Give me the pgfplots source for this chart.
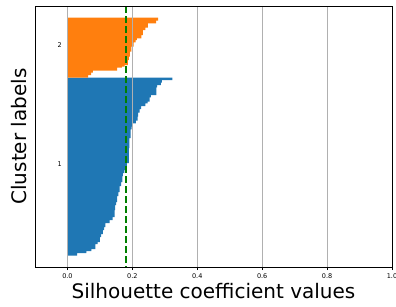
\documentclass[border=0pt]{standalone}
\usepackage{fontspec}
\setmainfont{DejaVu Sans}
\usepackage{pgfplots}
\pgfplotsset{compat=1.18}
\definecolor{mplblue}{HTML}{1F77B4}
\definecolor{mplorange}{HTML}{FF7F0E}
\definecolor{mplgreen}{HTML}{008000}
\definecolor{gridgray}{HTML}{B0B0B0}
\begin{document}
\begin{tikzpicture}
\begin{axis}[
  at={(0pt,0pt)}, anchor=south west,
  scale only axis, width=357pt, height=261pt,
  xmin=-0.1, xmax=1.0, ymin=6, ymax=267, y dir=reverse,
  xtick={0,0.2,0.4,0.6,0.8,1.0},
  xticklabels={0.0,0.2,0.4,0.6,0.8,1.0},
  ytick=\empty,
  xmajorgrids, grid style={draw=gridgray, line width=0.8pt},
  axis on top,
  axis line style={line width=0.8pt},
  tick align=outside, xtick pos=bottom, major tick length=3pt,
  every tick/.style={black, line width=0.8pt},
  /pgf/number format/assume math mode=true,
  tick label style={font=\fontsize{6.5}{8}\selectfont},
  xlabel={Silhouette coefficient values},
  ylabel={Cluster labels},
  every axis x label/.style={at={(axis description cs:0.5,0)}, yshift=-24pt, anchor=center, font=\fontsize{20}{24}\selectfont},
  every axis y label/.style={at={(axis description cs:0,0.5)}, xshift=-16pt, rotate=90, anchor=center, font=\fontsize{20}{24}\selectfont},
  clip=false,
]
% cluster 1
\addplot[fill=mplblue, draw=none] coordinates {
(0,77.7)
(0.323,77.7)(0.323,80)
(0.291,80)(0.291,82.7)
(0.288,82.7)(0.288,85)
(0.276,85)(0.276,87.3)
(0.274,87.3)(0.274,95)
(0.257,95)(0.257,97.3)
(0.253,97.3)(0.253,101.7)
(0.247,101.7)(0.247,103.3)
(0.240,103.3)(0.240,106)
(0.227,106)(0.227,109)
(0.222,109)(0.222,112.7)
(0.218,112.7)(0.218,116.7)
(0.216,116.7)(0.216,120.7)
(0.211,120.7)(0.211,123.3)
(0.201,123.3)(0.201,126.7)
(0.198,126.7)(0.198,129.3)
(0.195,129.3)(0.195,138)
(0.191,138)(0.191,148)
(0.189,148)(0.189,163)
(0.183,163)(0.183,166)
(0.180,166)(0.180,170)
(0.175,170)(0.175,173)
(0.171,173)(0.171,176)
(0.169,176)(0.169,182)
(0.165,182)(0.165,186)
(0.161,186)(0.161,192)
(0.157,192)(0.157,196)
(0.153,196)(0.153,202)
(0.150,202)(0.150,205)
(0.147,205)(0.147,210)
(0.145,210)(0.145,217)
(0.139,217)(0.139,220)
(0.130,220)(0.130,223)
(0.117,223)(0.117,227)
(0.113,227)(0.113,230)
(0.109,230)(0.109,234)
(0.104,234)(0.104,237)
(0.100,237)(0.100,242)
(0.093,242)(0.093,244)
(0.086,244)(0.086,249)
(0.074,249)(0.074,251)
(0.058,251)(0.058,253)
(0.030,253)(0.030,255.7)
(0,255.7)
};
% cluster 2
\addplot[fill=mplorange, draw=none] coordinates {
(0,17.7)
(0.279,17.7)(0.279,20.7)
(0.273,20.7)(0.273,23.3)
(0.248,23.3)(0.248,27.7)
(0.240,27.7)(0.240,30)
(0.232,30)(0.232,35)
(0.228,35)(0.228,38.3)
(0.214,38.3)(0.214,40)
(0.210,40)(0.210,42.3)
(0.204,42.3)(0.204,46.7)
(0.197,46.7)(0.197,51.7)
(0.192,51.7)(0.192,56.7)
(0.189,56.7)(0.189,60)
(0.186,60)(0.186,65)
(0.176,65)(0.176,66.7)
(0.168,66.7)(0.168,67.7)
(0.153,67.7)(0.153,70.7)
(0.078,70.7)(0.078,72.7)
(0.073,72.7)(0.073,75)
(0.064,75)(0.064,77.7)
(0,77.7)
};
% average silhouette
\addplot[mplgreen, line width=1.6pt, dash pattern=on 7pt off 3pt] coordinates {(0.1806,6) (0.1806,267)};
\node[font=\fontsize{6.5}{8}\selectfont, anchor=base] at (axis cs:-0.024,47.7) {2};
\node[font=\fontsize{6.5}{8}\selectfont, anchor=base] at (axis cs:-0.024,166.6) {1};
\end{axis}
\pgfresetboundingbox
\path[use as bounding box] (-35pt,-39pt) rectangle (361pt,267pt);
\end{tikzpicture}
\end{document}
